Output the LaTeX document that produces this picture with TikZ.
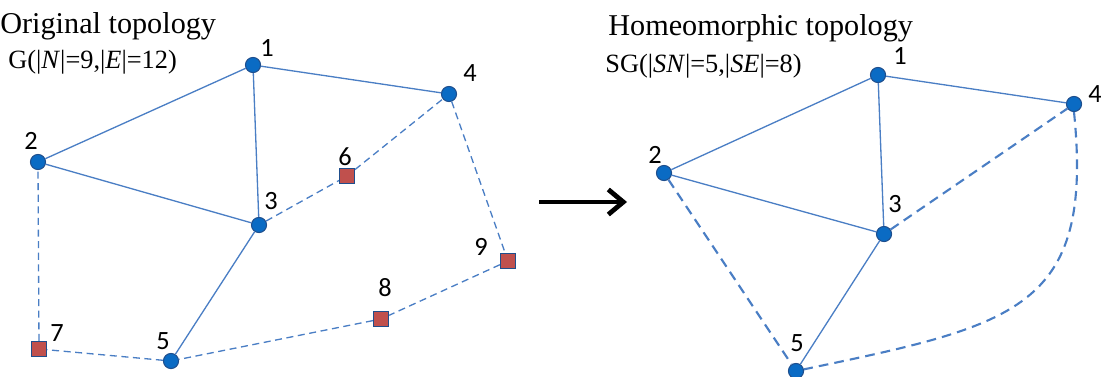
\documentclass[tikz,border=0pt]{standalone}
\usepackage{fontspec}
\setmainfont{Liberation Serif}
\newfontfamily\numfont{Carlito}
\usetikzlibrary{arrows.meta}

\definecolor{edgeblue}{HTML}{4A7EC4}
\definecolor{nodeblue}{HTML}{0A6BC4}
\definecolor{nodeline}{HTML}{1F4E8C}
\definecolor{relayred}{HTML}{C0504D}

\tikzset{
  host/.style={circle, fill=nodeblue, draw=nodeline, line width=0.6pt, minimum size=8.6pt, inner sep=0pt},
  relay/.style={rectangle, fill=relayred, draw=nodeline, line width=0.8pt, minimum size=8.4pt, inner sep=0pt},
  num/.style={font=\numfont\fontsize{15}{17}\selectfont, inner sep=0pt},
  link/.style={edgeblue, line width=0.75pt},
  vlink/.style={edgeblue, line width=0.75pt, dash pattern=on 4pt off 2.6pt},
  slink/.style={edgeblue, line width=1.2pt, dash pattern=on 5.5pt off 3.5pt}
}

\begin{document}
\begin{tikzpicture}[x=0.02cm, y=-0.02cm]
  \useasboundingbox (0,0) rectangle (1101,376);

  % titles
  \node[anchor=base west, inner sep=0pt, font=\fontsize{17.2}{19}\selectfont] (t1) at (0,33) {Original topology};
  \node[anchor=base west, inner sep=0pt, font=\fontsize{15}{17}\selectfont] (s1) at (8,68) {G(|\textit{N}|=9,|\textit{E}|=12)};
  \node[anchor=base west, inner sep=0pt, font=\fontsize{17.2}{19}\selectfont] (t2) at (608,35) {Homeomorphic topology};
  \node[anchor=base west, inner sep=0pt, font=\fontsize{15}{17}\selectfont] (s2) at (605,72) {SG(|\textit{SN}|=5,|\textit{SE}|=8)};

  % original graph
  \node[host] (a1) at (253,65) {};
  \node[host] (a2) at (38,162) {};
  \node[host] (a3) at (259,225) {};
  \node[host] (a4) at (449,94) {};
  \node[host] (a5) at (171,361) {};
  \node[relay] (a6) at (347,176) {};
  \node[relay] (a7) at (39,349) {};
  \node[relay] (a8) at (381,319) {};
  \node[relay] (a9) at (508,261) {};

  \node[num] (la1) at (267,48) {1};
  \node[num] (la2) at (31,141) {2};
  \node[num] (la3) at (271,201) {3};
  \node[num] (la4) at (470,73) {4};
  \node[num] (la5) at (163,341) {5};
  \node[num] (la6) at (345,157) {6};
  \node[num] (la7) at (57,333) {7};
  \node[num] (la8) at (385,288) {8};
  \node[num] (la9) at (481,247) {9};

  \draw[link] (a1) -- (a2);
  \draw[link] (a1) -- (a3);
  \draw[link] (a1) -- (a4);
  \draw[link] (a2) -- (a3);
  \draw[link] (a3) -- (a5);
  \draw[vlink] (a3) -- (a6);
  \draw[vlink] (a6) -- (a4);
  \draw[vlink] (a4) -- (a9);
  \draw[vlink] (a9) -- (a8);
  \draw[vlink] (a8) -- (a5);
  \draw[vlink] (a5) -- (a7);
  \draw[vlink] (a7) -- (a2);

  % arrow between the two
  \coordinate (from) at (539,202);
  \coordinate (to) at (627,202);
  \draw[line width=2.7pt, -{Straight Barb[length=3mm, width=5mm]}] (from) -- (to);

  % reduced graph
  \node[host] (b1) at (878,75) {};
  \node[host] (b2) at (664,173) {};
  \node[host] (b3) at (884,234) {};
  \node[host] (b4) at (1074,104) {};
  \node[host] (b5) at (796,371) {};

  \node[num] (lb1) at (900,56) {1};
  \node[num] (lb2) at (655,155) {2};
  \node[num] (lb3) at (895,204) {3};
  \node[num] (lb4) at (1095,94) {4};
  \node[num] (lb5) at (797,343) {5};

  \draw[link] (b1) -- (b2);
  \draw[link] (b1) -- (b3);
  \draw[link] (b1) -- (b4);
  \draw[link] (b2) -- (b3);
  \draw[link] (b3) -- (b5);
  \draw[slink] (b3) -- (b4);
  \draw[slink] (b2) -- (b5);
  \draw[slink] (b4.south) .. controls (1094,310) and (1015,325) .. (b5);
\end{tikzpicture}
\end{document}
